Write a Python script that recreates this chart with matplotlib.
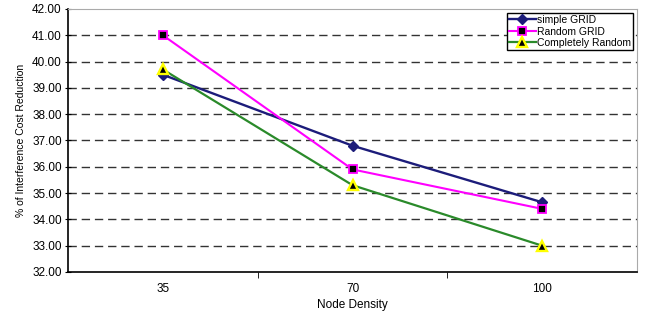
import matplotlib
matplotlib.use("Agg")
import matplotlib.pyplot as plt
from matplotlib.ticker import FixedLocator

plt.rcParams['font.family'] = ['Liberation Sans', 'DejaVu Sans']

densities = ["35", "70", "100"]
simple_grid = [39.5, 36.8, 34.65]
random_grid = [41.0, 35.9, 34.4]
completely_random = [39.7, 35.3, 33.0]
y_ticks = [32, 33, 34, 35, 36, 37, 38, 39, 40, 41, 42]

fig = plt.figure(figsize=(6.51, 3.2), dpi=100)
ax = fig.add_axes([0.1045, 0.15, 0.874, 0.822])

x = list(range(len(densities)))
ax.plot(x, simple_grid, color="#1c1c7a", lw=1.7, marker="D", ms=5,
        mfc="#1c1c7a", mec="#1c1c7a", label="simple GRID", zorder=3)
ax.plot(x, random_grid, color="#ff00ff", lw=1.5, marker="s", ms=6,
        mfc="black", mec="#ff00ff", mew=1.3, label="Random GRID", zorder=3)
ax.plot(x, completely_random, color="#2a8a2a", lw=1.6, marker="^", ms=6.5,
        mfc="black", mec="#ffff00", mew=1.7, label="Completely Random", zorder=3)

ax.set_xlim(-0.5, 2.5)
ax.set_ylim(32, 42)
ax.set_xticks(x)
ax.set_xticklabels(densities)
ax.xaxis.set_minor_locator(FixedLocator([0.5, 1.5]))
ax.tick_params(axis="x", which="major", length=0, labelsize=8.5, pad=8)
ax.tick_params(axis="x", which="minor", length=4, direction="out", color="black")
ax.set_yticks(y_ticks)
ax.set_yticklabels(["%.2f" % v for v in y_ticks])
ax.tick_params(axis="y", length=5, direction="inout", labelsize=8.5, pad=2)

for v in y_ticks[1:-1]:
    ax.axhline(v, color="#333333", lw=1.0, ls=(0, (6, 3.5)), zorder=1)

ax.spines["left"].set_color("black")
ax.spines["bottom"].set_color("black")
ax.spines["left"].set_linewidth(1.2)
ax.spines["bottom"].set_linewidth(1.2)
ax.spines["top"].set_color("#aaaaaa")
ax.spines["right"].set_color("#aaaaaa")

ax.set_xlabel("Node Density", fontsize=8.5, labelpad=3)
ax.set_ylabel("% of Interference Cost Reduction", fontsize=7.5, labelpad=4)

leg = ax.legend(loc="upper right", bbox_to_anchor=(0.993, 0.985), fontsize=7.5,
                fancybox=False, framealpha=1, edgecolor="black",
                handlelength=2.6, handletextpad=0.1, borderpad=0.2,
                labelspacing=0.15, borderaxespad=0)
leg.get_frame().set_linewidth(1.0)

fig.savefig("out.png", dpi=100)
